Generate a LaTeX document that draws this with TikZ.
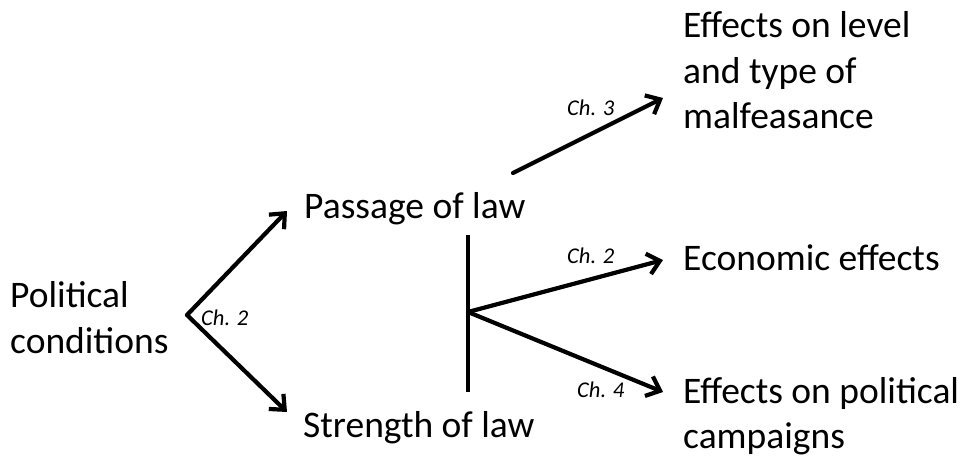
\documentclass[tikz,border=0pt]{standalone}
\usepackage{fontspec}
\setmainfont{Carlito}
\usetikzlibrary{arrows.meta}
\begin{document}
\begin{tikzpicture}[x=1pt,y=-1pt,
  big/.style={anchor=base west,inner sep=0pt,font=\fontsize{37.5}{46}\selectfont},
  chlab/.style={anchor=base west,inner sep=0pt,font=\itshape\fontsize{22.5}{26}\selectfont},
  conn/.style={line width=4.2pt,line cap=round},
  arr/.style={conn,-{Straight Barb[length=12pt,width=21pt,line width=4.2pt]}}]
\useasboundingbox (0,0) rectangle (962,466);
% texts
\node[big] (pol1) at (10,307) {Political};
\node[big] (pol2) at (10,353) {conditions};
\node[big] (pass) at (304,218) {Passage of law};
\node[big] (str) at (303,437) {Strength of law};
\node[big] (mal1) at (683,37) {Effects on level};
\node[big] (mal2) at (683,83) {and type of};
\node[big] (mal3) at (683,128) {malfeasance};
\node[big] (eco) at (683,270) {Economic effects};
\node[big] (camp1) at (683,403) {Effects on political};
\node[big] (camp2) at (683,448) {campaigns};
% chapter labels
\node[chlab] (c2a) at (201,325) {Ch. 2};
\node[chlab] (c3) at (567,115) {Ch. 3};
\node[chlab] (c2b) at (567,263) {Ch. 2};
\node[chlab] (c4) at (577,397) {Ch. 4};
% coordinates
\coordinate (fork) at (187,315);
\coordinate (passin) at (287,211);
\coordinate (strin) at (287,412);
\coordinate (bartop) at (468,235);
\coordinate (barbot) at (468,392);
\coordinate (barmid) at (468,312);
\coordinate (c3start) at (513,173);
\coordinate (malin) at (663,98);
\coordinate (ecoin) at (663,260);
\coordinate (campin) at (663,392);
% connectors
\draw[arr] (fork) -- (passin);
\draw[arr] (fork) -- (strin);
\draw[conn,line cap=butt] (bartop) -- (barbot);
\draw[arr] (c3start) -- (malin);
\draw[arr] (barmid) -- (ecoin);
\draw[arr] (barmid) -- (campin);
\end{tikzpicture}
\end{document}
